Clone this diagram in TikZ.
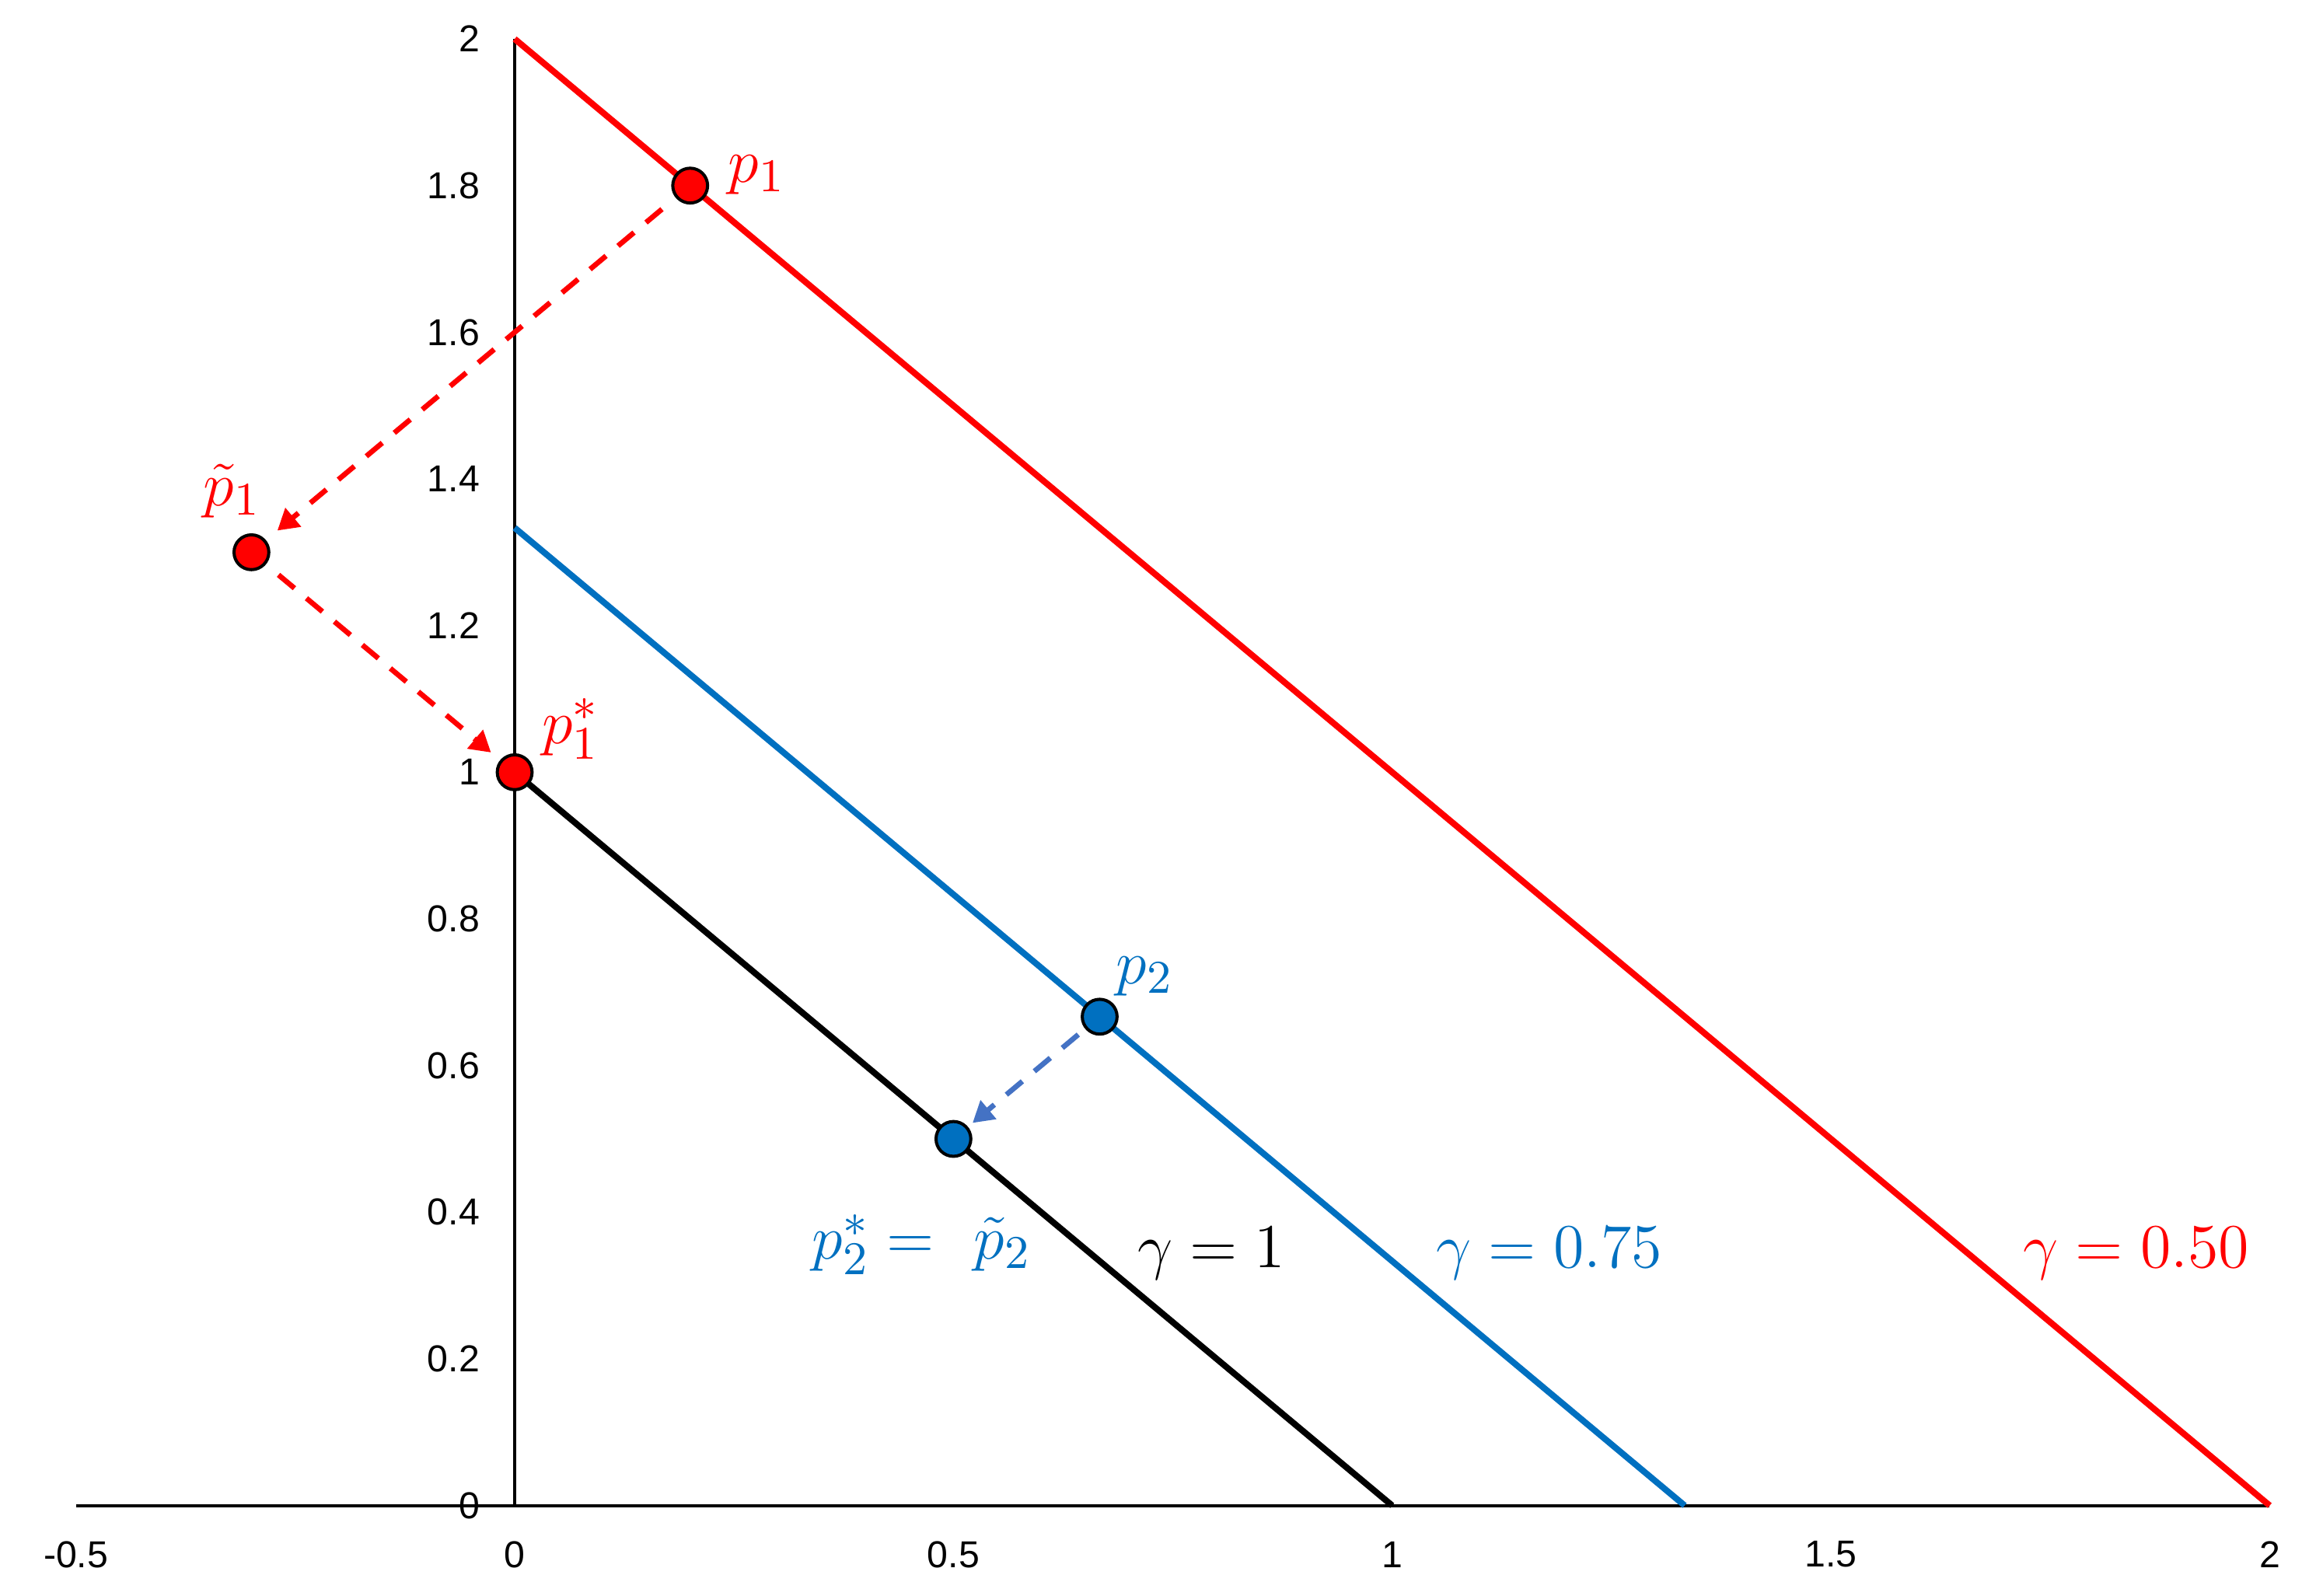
\documentclass[tikz,border=0pt]{standalone}
\usepackage{fontspec}
\newfontfamily\tickfont{Liberation Sans}
\usetikzlibrary{arrows.meta,positioning}
\definecolor{gred}{RGB}{255,0,0}
\definecolor{gblue}{RGB}{0,112,192}
\definecolor{ablue}{RGB}{68,114,196}

\begin{document}
\begin{tikzpicture}[x=5.923cm,y=4.95cm]
  \tikzset{pnt/.style={circle,draw=black,line width=0.6pt,minimum size=2.35mm,inner sep=0pt},
    tck/.style={font=\tickfont\fontsize{7.2}{8}\selectfont,inner sep=0pt},
    lbl/.style={font=\fontsize{13}{15}\selectfont,inner sep=0pt},
    mv/.style={dash pattern=on 4pt off 3pt,line width=1pt,-{Triangle[length=4pt,width=4.5pt]},shorten <=1.2mm,shorten >=1mm}}
  \useasboundingbox (-3.474cm,-0.607cm) rectangle (12.206cm,10.163cm);
  \draw[line width=0.6pt] (-0.5,0) -- (2,0) (0,0) -- (0,2);
  \foreach\t[count=\i] in{0,0.2,0.4,0.6,0.8,1,1.2,1.4,1.6,1.8,2}{\node(yt\i)[tck,anchor=east,xshift=-2.3mm] at (0,\t){\t};}
  \foreach\t[count=\i] in{-0.5,0,0.5,1,1.5,2}{\node(xt\i)[tck,yshift=-3.3mm] at (\t,0){\t};}
  \draw[gred,line width=1.2pt] (0,2) -- (2,0);
  \draw[gblue,line width=1.2pt] (0,4/3) -- (4/3,0);
  \draw[line width=1.2pt] (0,1) -- (1,0);
  \node(p1)[pnt,fill=gred] at (0.2,1.8){};
  \node(pt1)[pnt,fill=gred] at (-0.3,1.3){};
  \node(ps1)[pnt,fill=gred] at (0,1){};
  \node(p2)[pnt,fill=gblue] at (2/3,2/3){};
  \node(ps2)[pnt,fill=gblue] at (0.5,0.5){};
  \draw[mv,gred] (p1) -- (pt1);
  \draw[mv,gred,shorten <=1.1mm,shorten >=0.8mm] (pt1) -- (ps1);
  \draw[mv,ablue,shorten <=0.6mm,shorten >=0.4mm] (p2) -- (ps2);
  \node(l1)[lbl,gred] at (0.276,1.815){$p_1$};
  \node(lt1)[lbl,gred] at (-0.322,1.384){$\tilde{p}_1$};
  \node(ls1)[lbl,gred] at (0.064,1.059){$p_1^*$};
  \node(l2)[lbl,gblue] at (0.718,0.722){$p_2$};
  \node(ls2)[lbl,gblue] at (0.464,0.356){$p_2^* =\ \tilde{p}_2$};
  \node(g1)[lbl] at (0.794,0.344){$\gamma = 1$};
  \node(g2)[lbl,gblue] at (1.179,0.344){$\gamma = 0.75$};
  \node(g3)[lbl,gred] at (1.848,0.344){$\gamma = 0.50$};
\end{tikzpicture}
\end{document}
